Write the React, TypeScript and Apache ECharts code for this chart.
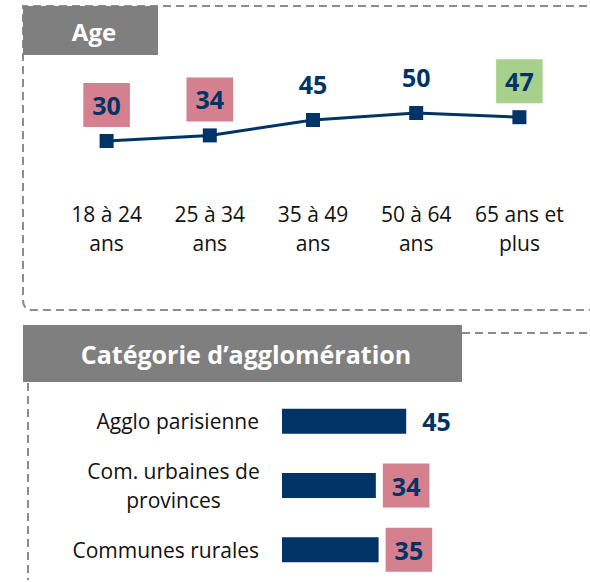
import React, { useEffect, useRef } from "react";
import * as echarts from "echarts";

const ageCategories = ["18 à 24\nans", "25 à 34\nans", "35 à 49\nans", "50 à 64\nans", "65 ans et\nplus"];
const ageValues = [30, 34, 45, 50, 47];
const ageHighlight = ["low", "low", "none", "none", "high"];

const aggloCategories = ["Agglo parisienne", "Com. urbaines de\nprovinces", "Communes rurales"];
const aggloValues = [45, 34, 35];
const aggloHighlight = ["none", "low", "low"];

const sectionTitles = ["Age", "Catégorie d\u2019agglomération"];

const NAVY = "#003366";
const PINK = "#d4808f";
const GREEN = "#a8d08d";
const HEADER = "#7f7f7f";
const DASH = "#8c8c8c";
const TEXT = "#111111";
const FONT = "Open Sans";

const hlColor = (h: string) => (h === "low" ? PINK : h === "high" ? GREEN : "transparent");

let registered = false;
function registerShapes() {
  if (registered) return;
  registered = true;
  echarts.graphic.registerShape(
    "topFrame",
    echarts.graphic.extendPath("M 600 6 L 23 6 L 23 300 Q 23 310 33 310 L 600 310", {}) as any
  );
}

export default function App() {
  const ref = useRef<HTMLDivElement>(null);
  useEffect(() => {
    if (!ref.current) return;
    registerShapes();
    const chart = echarts.init(ref.current, undefined, { renderer: "svg" });
    const dashStyle = { stroke: DASH, lineWidth: 2, lineDash: [8, 5], fill: "none" };
    const valueLabel = {
      show: true,
      distance: 7,
      color: NAVY,
      fontFamily: FONT,
      fontWeight: "bold",
      fontSize: 25,
      lineHeight: 26,
      padding: [9, 9, 9, 9],
    };
    chart.setOption({
      animation: false,
      backgroundColor: "#ffffff",
      textStyle: { fontFamily: FONT },
      grid: [
        { left: 55, width: 516, top: 43, height: 140 },
        { left: 282, width: 276, top: 389, height: 195 },
      ],
      xAxis: [
        {
          gridIndex: 0,
          type: "category",
          data: ageCategories,
          axisLine: { show: false },
          axisTick: { show: false },
          axisLabel: { color: TEXT, fontFamily: FONT, fontSize: 21, lineHeight: 29, margin: 16, interval: 0 },
        },
        { gridIndex: 1, type: "value", min: 0, max: 100, show: false },
      ],
      yAxis: [
        { gridIndex: 0, type: "value", min: 0, max: 100, show: false },
        {
          gridIndex: 1,
          type: "category",
          inverse: true,
          data: aggloCategories,
          axisLine: { show: false },
          axisTick: { show: false },
          axisLabel: {
            color: TEXT,
            fontFamily: FONT,
            fontSize: 21,
            lineHeight: 29,
            margin: 23,
            align: "right",
            formatter: (v: string) =>
              v.indexOf("\n") >= 0 ? v.split("\n").map((s) => `{c|${s}}`).join("\n") : v,
            rich: {
              c: { width: 171, align: "center", color: TEXT, fontFamily: FONT, fontSize: 21, lineHeight: 29 },
            },
          },
        },
      ],
      series: [
        {
          type: "line",
          xAxisIndex: 0,
          yAxisIndex: 0,
          symbol: "rect",
          symbolSize: 14,
          lineStyle: { color: NAVY, width: 3 },
          itemStyle: { color: NAVY },
          label: { ...valueLabel, position: "top" },
          data: ageValues.map((v, i) => ({ value: v, label: { backgroundColor: hlColor(ageHighlight[i]) } })),
        },
        {
          type: "bar",
          xAxisIndex: 1,
          yAxisIndex: 1,
          barWidth: 25,
          itemStyle: { color: NAVY },
          label: { ...valueLabel, position: "right" },
          data: aggloValues.map((v, i) => ({ value: v, label: { backgroundColor: hlColor(aggloHighlight[i]) } })),
        },
      ],
      graphic: [
        { type: "topFrame", x: 0, y: 0, style: dashStyle, silent: true, z: 1 },
        { type: "line", shape: { x1: 462, y1: 333, x2: 600, y2: 333 }, style: dashStyle, silent: true, z: 1 },
        { type: "line", shape: { x1: 28, y1: 383, x2: 28, y2: 580 }, style: dashStyle, silent: true, z: 1 },
        { type: "rect", shape: { x: 23, y: 6, width: 135, height: 49 }, style: { fill: HEADER }, z: 2 },
        {
          type: "text",
          x: 94,
          y: 31,
          z: 3,
          style: {
            text: sectionTitles[0],
            fill: "#ffffff",
            font: `bold 24px "${FONT}"`,
            textAlign: "center",
            textVerticalAlign: "middle",
          },
        },
        { type: "rect", shape: { x: 23, y: 325, width: 439, height: 57 }, style: { fill: HEADER }, z: 2 },
        {
          type: "text",
          x: 246,
          y: 354,
          z: 3,
          style: {
            text: sectionTitles[1],
            fill: "#ffffff",
            font: `bold 25px "${FONT}"`,
            textAlign: "center",
            textVerticalAlign: "middle",
          },
        },
      ],
    });
    return () => chart.dispose();
  }, []);
  return (
    <div
      ref={ref}
      style={{ position: "absolute", left: 0, top: 0, width: 590, height: 582, background: "#fff" }}
    />
  );
}
